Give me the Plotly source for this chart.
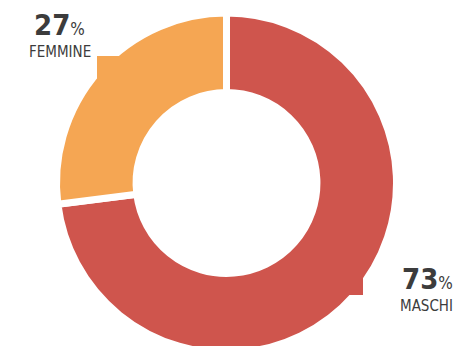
import plotly.graph_objects as go

# Gender split
labels = ["MASCHI", "FEMMINE"]
values = [73, 27]
colors = ["#CF554D", "#F5A653"]

W, H = 457, 353
TOP = 13


def px(x):
    return x / W


def py(y):
    return (H - y) / (H - TOP)


fig = go.Figure(
    go.Pie(
        labels=labels,
        values=values,
        sort=False,
        direction="clockwise",
        rotation=0,
        hole=0.532,
        marker=dict(colors=colors, line=dict(color="white", width=7)),
        textinfo="none",
        hoverinfo="label+percent",
        showlegend=False,
        domain=dict(x=[0, 453 / W], y=[0, 1]),
    )
)

# small pointer tabs attached to each slice
tabs = {"FEMMINE": (97, 56, 121, 80), "MASCHI": (345, 275, 363, 295)}
shapes = []
for lab, c in zip(labels, colors):
    x0, y0, x1, y1 = tabs[lab]
    shapes.append(dict(type="rect", xref="paper", yref="paper",
                       x0=px(x0), x1=px(x1), y0=py(y1), y1=py(y0),
                       fillcolor=c, line=dict(width=0), layer="above"))

FONT = "DejaVu Sans Condensed, Roboto, sans-serif"
TXT = "#3C3C3C"
annotations = []
# (x, anchor, number baseline, label baseline)
label_pos = {"FEMMINE": (60, "center", 38, 59), "MASCHI": (455, "right", 292, 313)}
for lab, val in zip(labels, values):
    cx, anc, ybase_num, ybase_lab = label_pos[lab]
    annotations.append(dict(
        xref="paper", yref="paper", x=px(cx), y=py(ybase_num + 6),
        xanchor=anc, yanchor="bottom", showarrow=False,
        text=f"<b>{val}</b><span style='font-size:17px'>%</span>",
        font=dict(family=FONT, size=29, color=TXT)))
    annotations.append(dict(
        xref="paper", yref="paper", x=px(cx), y=py(ybase_lab + 4),
        xanchor=anc, yanchor="bottom", showarrow=False,
        text=lab, font=dict(family=FONT, size=15, color=TXT)))

fig.update_layout(
    width=W, height=H,
    margin=dict(l=0, r=0, t=TOP, b=0, pad=0),
    paper_bgcolor="white", plot_bgcolor="white",
    shapes=shapes, annotations=annotations,
)

fig.write_html(
    "out.html",
    post_script="document.documentElement.style.overflow='hidden';document.body.style.overflow='hidden';document.body.style.margin='0';",
)
